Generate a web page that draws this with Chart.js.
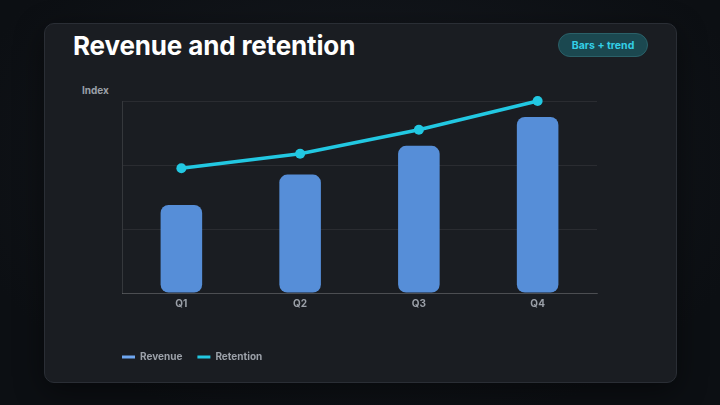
<!DOCTYPE html>
<html>
<head>
<meta charset="utf-8">
<script src="https://cdn.jsdelivr.net/npm/chart.js@4.4.1/dist/chart.umd.min.js"></script>
<style>
  html, body { margin: 0; padding: 0; }
  body {
    width: 720px; height: 405px; overflow: hidden;
    background: radial-gradient(ellipse at 50% 40%, #161a20 0%, #0c0f13 80%);
    font-family: Inter, "Noto Sans", sans-serif;
    position: relative;
  }
  .card {
    position: absolute; left: 44px; top: 23px; width: 631px; height: 358px;
    background: #1a1d22; border: 1px solid #2a2e35; border-radius: 10px;
    box-shadow: 0 8px 30px rgba(0,0,0,0.45);
  }
  h1 {
    position: absolute; left: 73px; top: 30px; margin: 0;
    font-size: 26px; font-weight: 700; color: #ffffff; letter-spacing: -0.15px;
  }
  .badge {
    position: absolute; left: 558px; top: 33px; width: 88px; height: 22px;
    border-radius: 12px; background: #1b4850; border: 1px solid #2a6068;
    color: #33cfe6; font-size: 10.5px; font-weight: 700;
    display: flex; align-items: center; justify-content: center;
  }
  .ylab {
    position: absolute; left: 82px; top: 84px;
    font-size: 10px; font-weight: 700; color: #9ba0a8;
  }
  #wrap { position: absolute; left: 105px; top: 90px; width: 505px; height: 282px; }
</style>
</head>
<body>
<div class="card"></div>
<h1>Revenue and retention</h1>
<div class="badge">Bars + trend</div>
<div class="ylab">Index</div>
<div id="wrap"><canvas id="chart"></canvas></div>
<script>
var quarters = ['Q1', 'Q2', 'Q3', 'Q4'];
var revenue = [55, 74, 92, 110];
var retention = [78, 87, 102, 120];

var barColor = '#568ed8';
var lineColor = '#22c8e2';

var ctx = document.getElementById('chart');
var chart = new Chart(ctx, {
  type: 'bar',
  data: {
    labels: quarters,
    datasets: [{
      label: 'Revenue',
      data: revenue,
      backgroundColor: barColor,
      borderWidth: 0,
      borderRadius: 8,
      borderSkipped: false,
      barPercentage: 0.7,
      categoryPercentage: 0.5,
      order: 2
    }, {
      type: 'line',
      label: 'Retention',
      data: retention,
      borderColor: lineColor,
      backgroundColor: lineColor,
      borderWidth: 3.5,
      pointRadius: 5,
      pointBorderWidth: 0,
      pointBackgroundColor: lineColor,
      tension: 0,
      clip: false,
      order: 1
    }]
  },
  options: {
    responsive: true,
    maintainAspectRatio: false,
    animation: false,
    layout: { padding: { left: 2, right: 13, top: 11, bottom: 0 } },
    scales: {
      x: {
        grid: { display: false, drawTicks: false },
        border: { display: true, color: 'rgba(255,255,255,0.16)' },
        ticks: { color: '#9ba0a8', font: { size: 10, weight: 'bold', family: 'Inter' }, padding: 5 },
        afterFit: function (s) { s.height = 44; }
      },
      y: {
        min: 0,
        max: 120,
        ticks: { display: false, stepSize: 40 },
        grid: { color: 'rgba(255,255,255,0.07)', drawTicks: false },
        border: { display: true, color: 'rgba(255,255,255,0.12)' },
        afterFit: function (s) { s.width = 15; }
      }
    },
    plugins: {
      tooltip: { enabled: false },
      legend: {
        position: 'bottom',
        align: 'start',
        labels: {
          usePointStyle: true,
          pointStyle: 'line',
          pointStyleWidth: 13,
          padding: 15,
          color: '#9ba0a8',
          font: { size: 10, weight: 'bold', family: 'Inter' },
          generateLabels: function (c) {
            var cols = ['#6ea6f0', lineColor];
            return c.data.datasets.map(function (d, i) {
              return {
                text: d.label,
                datasetIndex: i,
                fillStyle: cols[i],
                strokeStyle: cols[i],
                lineWidth: 3,
                pointStyle: 'line',
                fontColor: '#9ba0a8',
                hidden: false
              };
            });
          }
        }
      }
    }
  }
});
</script>
</body>
</html>
